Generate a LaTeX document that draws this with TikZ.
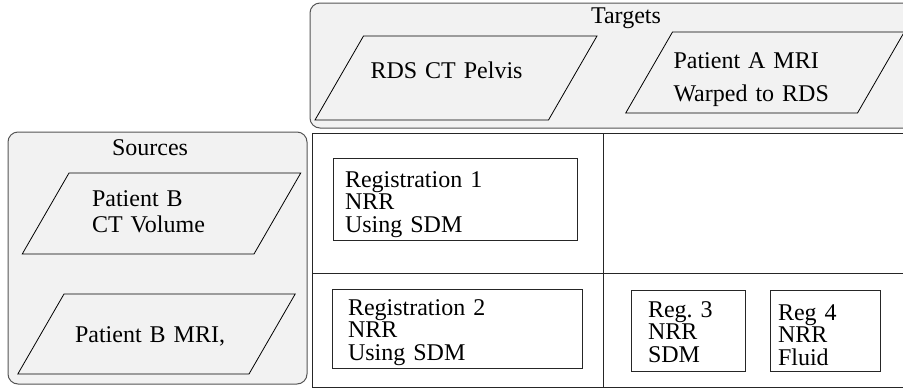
\documentclass[tikz,border=0pt]{standalone}
\usepackage{fontspec}
\setmainfont{Liberation Serif}
\usetikzlibrary{shapes.geometric}

\definecolor{panelgray}{HTML}{F2F2F2}
\definecolor{edgegray}{HTML}{555555}

\begin{document}
\begin{tikzpicture}[x=1pt,y=-1pt,font=\fontsize{24}{22.5}\selectfont]
  \tikzstyle{panel}=[draw=edgegray,fill=panelgray,line width=1pt,rounded corners=10pt]
  \tikzstyle{cell}=[draw=black!85,line width=0.9pt]
  \tikzstyle{volume}=[draw,line width=0.8pt,trapezium,trapezium left angle=60,trapezium right angle=120,inner ysep=0pt,align=left]
  \tikzstyle{regbox}=[draw=black!85,line width=0.8pt,fill=white,inner ysep=0pt,align=left,text height=16pt]
  \useasboundingbox (0,0) rectangle (903,389);
  % panels for targets and sources
  \draw[panel] (310,3) rectangle (960,128);
  \draw[panel] (8,132) rectangle (307,384);
  \node[anchor=base] (tgt) at (626,23) {Targets};
  \node[anchor=base] (src) at (150,155) {Sources};
  % grid of registrations
  \draw[cell] (312,133) rectangle (960,387);
  \draw[cell] (603,133) -- (603,387);
  \draw[cell] (312,273) -- (960,273);
  % volumes
  \node[volume,inner xsep=7pt,text width=171pt,text height=42pt,text depth=42pt] (rds) at (456,78) {RDS CT Pelvis};
  \node[volume,inner xsep=1pt,text width=183pt,text height=36.3pt,text depth=44.7pt] (mria) at (765,72.5) {Patient A MRI\\[11pt]Warped to RDS};
  \node[volume,inner xsep=23pt,text width=139pt,text height=33.7pt,text depth=47.3pt] (ctb) at (161.5,213.5) {Patient B\\[3.5pt]CT Volume};
  \node[volume,inner xsep=11pt,text width=163pt,text height=48pt,text depth=32pt] (mrib) at (156.5,334) {Patient B MRI,};
  % registrations
  \node[regbox,inner xsep=12pt,text width=220pt,minimum height=82pt,text depth=40pt] (reg1) at (455,199) {Registration 1\\NRR\\Using SDM};
  \node[regbox,inner xsep=16pt,text width=218pt,minimum height=79pt,text depth=43pt] (reg2) at (457,328.5) {Registration 2\\NRR\\Using SDM};
  \node[regbox,inner xsep=17pt,text width=80pt,minimum height=81pt,text depth=43pt] (reg3) at (688,330.5) {Reg.\ 3\\NRR\\SDM};
  \node[regbox,inner xsep=8pt,text width=94pt,minimum height=81pt,text depth=37pt] (reg4) at (825,330.5) {Reg 4\\NRR\\Fluid};
\end{tikzpicture}
\end{document}
